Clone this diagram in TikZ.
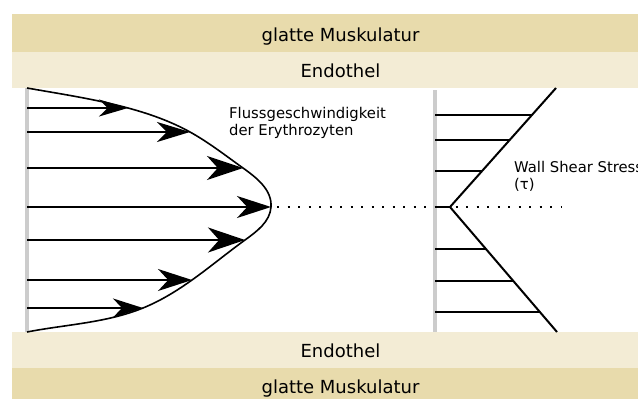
\documentclass[tikz,border=0pt]{standalone}
\usepackage{fontspec}
\setmainfont{DejaVu Sans}
\usetikzlibrary{arrows.meta,calc,hobby}
\definecolor{muscle}{RGB}{232,219,172}
\definecolor{endo}{RGB}{243,236,213}
\definecolor{wallgray}{RGB}{204,204,204}
\begin{document}
\begin{tikzpicture}[x=1pt,y=-1pt,
  bandlabel/.style={anchor=base, inner sep=0pt, font=\fontsize{18}{22}\selectfont},
  note/.style={anchor=base west, inner sep=0pt, align=left, font=\fontsize{14.8}{17}\selectfont},
  wall/.style={draw=wallgray, line width=3.5pt},
  profile/.style={line width=1.6pt},
  flow/.style n args={3}{line width=2pt, -{Stealth[length=#1, width=#2, inset=#3]}},
  shear/.style={line width=2pt},
  axis/.style={line width=2.2pt, dash pattern=on 2.2pt off 8.3pt, dash phase=-6pt}
]
\useasboundingbox (0,0) rectangle (638,399);

% tissue layers above and below the lumen
\fill[muscle] (12,14) rectangle (638,52);
\fill[endo] (12,52) rectangle (638,88);
\fill[endo] (12,332) rectangle (638,368);
\fill[muscle] (12,368) rectangle (638,399);
\node[bandlabel] (muscTop) at (340.5,41) {glatte Muskulatur};
\node[bandlabel] (endoTop) at (340.5,77) {Endothel};
\node[bandlabel] (endoBot) at (340.5,357) {Endothel};
\node[bandlabel] (muscBot) at (340.5,393) {glatte Muskulatur};

% vessel walls
\coordinate (lwTop) at (27,88);
\coordinate (lwBot) at (27,332);
\coordinate (rwTop) at (435,90);
\coordinate (rwBot) at (435,332);
\draw[wall] (lwTop) -- (lwBot);
\draw[wall] (rwTop) -- (rwBot);

% velocity profile
\coordinate (c0) at (27,88);
\coordinate (c1) at (128,108);
\coordinate (c2) at (190,132);
\coordinate (c3) at (243,168);
\coordinate (apex) at (271,207);
\coordinate (c5) at (245,240);
\coordinate (c6) at (192,280);
\coordinate (c7) at (143,308);
\coordinate (c8) at (27,332);
\draw[profile, use Hobby shortcut] ([out angle=-10]c0) .. (c1) .. (c2) .. (c3) .. (apex) .. (c5) .. (c6) .. (c7) .. ([in angle=11]c8);

\foreach \p/\l/\w in {c1/29/17, c2/33/20, c3/36/24, apex/34/22, c5/37/25, c6/34/22, c7/30/19}
  \draw[flow={\l pt}{\w pt}{0.3*\l pt}] (\p -| lwTop) -- (\p);

% centre line
\coordinate (axisEnd) at (562,207);
\draw[axis] (apex) -- (axisEnd);

% wall shear stress profile
\coordinate (sTop) at (556,88);
\coordinate (sApex) at (450,207);
\coordinate (sBot) at (557,332);
\draw[shear] (sTop) -- (sApex) -- (sBot);
\draw[shear] (sApex -| rwTop) -- (sApex);
\foreach \f [count=\i] in {0.773,0.563,0.303} {
  \coordinate (u\i) at ($(sApex)!\f!(sTop)$);
  \draw[shear] (u\i -| rwTop) -- (u\i);
}
\foreach \f [count=\i] in {0.336,0.592,0.84} {
  \coordinate (d\i) at ($(sApex)!\f!(sBot)$);
  \draw[shear] (d\i -| rwTop) -- (d\i);
}

% labels (base anchor sits on the last line)
\node[note] (flowlabel) at (229,135) {Flussgeschwindigkeit\\der Erythrozyten};
\node[note] (shearlabel) at (514,189) {Wall Shear Stress\\(τ)};
\end{tikzpicture}
\end{document}
